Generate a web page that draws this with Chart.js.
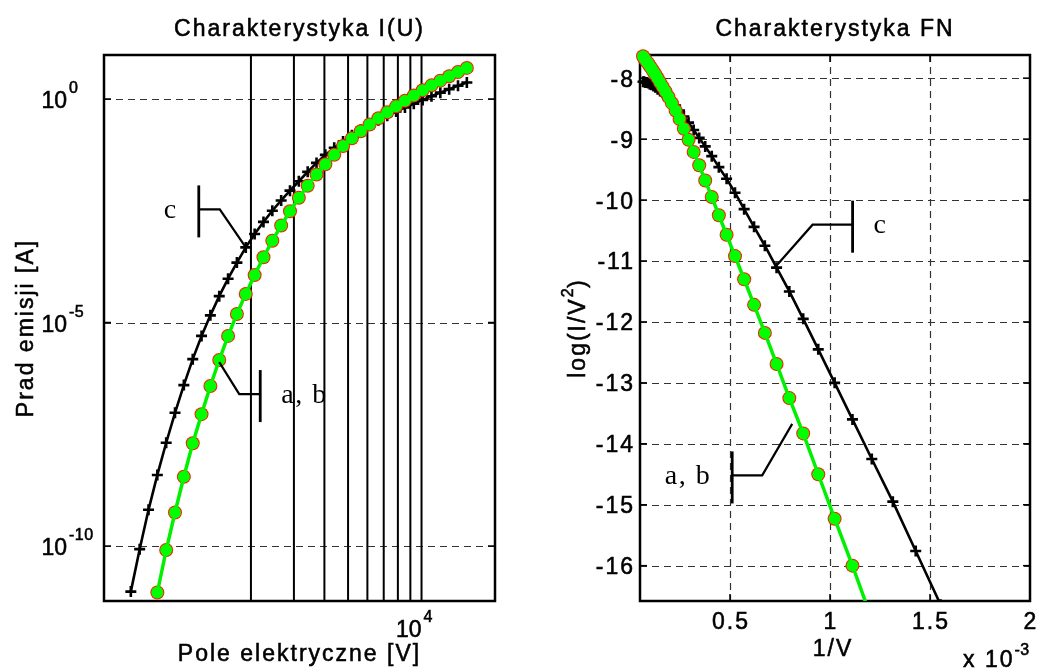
<!DOCTYPE html>
<html lang="pl">
<head>
<meta charset="utf-8">
<title>Charakterystyka I(U) i FN</title>
<script src="https://cdn.jsdelivr.net/npm/chart.js@4.4.1/dist/chart.umd.min.js"></script>
<style>
  html, body { margin: 0; padding: 0; background: #ffffff; }
  #figure { position: relative; width: 1039px; height: 671px; overflow: hidden; background: #ffffff; }
  #figure canvas { position: absolute; top: 0; }
  #iu { left: 0; }
  #fn { left: 520px; }
</style>
</head>
<body>
<div id="figure">
  <canvas id="iu" width="520" height="671"></canvas>
  <canvas id="fn" width="519" height="671"></canvas>
</div>
<script>
// ---- measured I(U) characteristic ----
// applied voltage steps [V]
const voltage = [644, 700, 761, 827, 899, 977, 1062, 1155, 1255, 1364, 1483, 1612, 1752, 1905, 2071, 2251,
  2447, 2660, 2891, 3143, 3416, 3713, 4036, 4388, 4769, 5184, 5635, 6126, 6659, 7238, 7868, 8552, 9296,
  10105, 10984, 11940, 12979, 14108, 15335];
// log10 of the emission current [A], curve c
const logCurrentC = [-11.02, -10.07, -9.19, -8.41, -7.69, -7.02, -6.40, -5.82, -5.30, -4.84, -4.41, -4.02,
  -3.66, -3.32, -3.02, -2.75, -2.50, -2.27, -2.05, -1.84, -1.63, -1.43, -1.25, -1.09, -0.95, -0.81, -0.69,
  -0.58, -0.475, -0.375, -0.28, -0.19, -0.105, -0.02, 0.062, 0.142, 0.22, 0.296, 0.37];
// log10 of the emission current [A], curves a and b (they coincide)
const logCurrentAB = [null, null, null, -11.04, -10.09, -9.25, -8.45, -7.70, -7.05, -6.42, -5.84, -5.30,
  -4.81, -4.36, -3.94, -3.54, -3.17, -2.83, -2.51, -2.21, -1.94, -1.69, -1.46, -1.25, -1.05, -0.88, -0.72,
  -0.57, -0.43, -0.295, -0.165, -0.04, 0.08, 0.195, 0.305, 0.41, 0.51, 0.605, 0.695];

// ---- Fowler-Nordheim coordinates ----
// 1/V in units of 1e-3 1/V
const inverseVoltage = [1.5528, 1.4286, 1.3142, 1.2090, 1.1123, 1.0232, 0.9413, 0.8660, 0.7967, 0.7329,
  0.6743, 0.6203, 0.5707, 0.5250, 0.4830, 0.4443, 0.4088, 0.3761, 0.3460, 0.3183, 0.2928, 0.2694, 0.2478,
  0.2280, 0.2097, 0.1929, 0.1775, 0.1633, 0.1502, 0.1382, 0.1271, 0.1170, 0.1076, 0.0990, 0.0911, 0.0838,
  0.0771, 0.0709, 0.0652];
// log(I/V^2), curve c
const fnC = [-16.64, -15.76, -14.95, -14.25, -13.60, -13.00, -12.45, -11.95, -11.50, -11.11, -10.75, -10.44,
  -10.15, -9.88, -9.65, -9.46, -9.28, -9.12, -8.98, -8.85, -8.73, -8.63, -8.53, -8.45, -8.39, -8.33, -8.28,
  -8.24, -8.21, -8.18, -8.15, -8.13, -8.11, -8.10, -8.08, -8.07, -8.07, -8.06, -8.06];
// log(I/V^2), curves a and b
const fnAB = [null, null, null, -16.88, -16.00, -15.23, -14.50, -13.83, -13.25, -12.69, -12.18, -11.72,
  -11.30, -10.92, -10.57, -10.25, -9.95, -9.68, -9.43, -9.21, -9.01, -8.83, -8.67, -8.53, -8.41, -8.31,
  -8.22, -8.14, -8.07, -8.00, -7.94, -7.89, -7.84, -7.80, -7.76, -7.73, -7.70, -7.67, -7.64];

// ---- axes ----
const currentTickExponents = [0, -5, -10];
const voltageTickExponents = [4];
const voltageGridLines = [2000, 3000, 4000, 5000, 6000, 7000, 8000, 9000, 10000];
const fnTicks = [-16, -15, -14, -13, -12, -11, -10, -9, -8];
const inverseTicks = [0.5, 1, 1.5, 2];
const inverseTickLabels = ['0.5', '1', '1.5', '2'];

const SANS = '"Liberation Sans", Arial, Helvetica, sans-serif';
const SERIF = '"Liberation Serif", "Times New Roman", Times, serif';
const BASE_SIZE = 23;
const BASE_SPACING = 2;
const SUP_SIZE = 16;

function setFont(ctx, size, family, spacing) {
  ctx.font = size + 'px ' + family;
  if ('letterSpacing' in ctx) ctx.letterSpacing = spacing + 'px';
}

// filled text with a hairline outline so the glyphs read a little heavier
function ink(ctx, text, x, y) {
  ctx.fillText(text, x, y);
  ctx.lineWidth = 0.55;
  ctx.strokeStyle = ctx.fillStyle;
  ctx.strokeText(text, x, y);
}

// text made of pieces; pieces flagged "sup" are drawn smaller and raised
function richText(ctx, pieces, x, y, align) {
  const styleOf = p => p.sup ? [SUP_SIZE, 0.5] : [BASE_SIZE, BASE_SPACING];
  const widths = pieces.map(p => {
    const [s, sp] = styleOf(p);
    setFont(ctx, s, SANS, sp);
    return ctx.measureText(p.t).width;
  });
  const total = widths.reduce((s, w) => s + w, 0);
  let cx = align === 'center' ? x - total / 2 : align === 'right' ? x - total : x;
  ctx.textAlign = 'left';
  ctx.textBaseline = 'alphabetic';
  pieces.forEach((p, i) => {
    const [s, sp] = styleOf(p);
    setFont(ctx, s, SANS, sp);
    ink(ctx, p.t, cx, y - (p.sup ? 12 : 0));
    cx += widths[i];
  });
}

function plainText(ctx, text, x, y, align) {
  setFont(ctx, BASE_SIZE, SANS, BASE_SPACING);
  ctx.textAlign = align;
  ctx.textBaseline = 'alphabetic';
  ink(ctx, text, x, y);
}

function segment(ctx, x1, y1, x2, y2) {
  ctx.beginPath();
  ctx.moveTo(x1, y1);
  ctx.lineTo(x2, y2);
  ctx.stroke();
}

function drawFrame(ctx, a) {
  ctx.save();
  ctx.setLineDash([]);
  ctx.strokeStyle = '#000';
  ctx.lineWidth = 2.5;
  ctx.strokeRect(a.left, a.top, a.right - a.left, a.bottom - a.top);
  ctx.restore();
}

// short tick marks pointing into the axes box on both sides
function inwardTicks(ctx, a, xPixels, yPixels) {
  ctx.save();
  ctx.setLineDash([]);
  ctx.strokeStyle = '#000';
  ctx.lineWidth = 1.5;
  const len = 7;
  yPixels.forEach(py => {
    segment(ctx, a.left, py, a.left + len, py);
    segment(ctx, a.right - len, py, a.right, py);
  });
  xPixels.forEach(px => {
    segment(ctx, px, a.bottom, px, a.bottom - len);
    segment(ctx, px, a.top, px, a.top + len);
  });
  ctx.restore();
}

// leader line from a curve to its letter
function callout(ctx, tip, c) {
  const ex = tip.x + c.elbow[0];
  const ey = tip.y + c.elbow[1];
  const bx = tip.x + c.bar;
  ctx.save();
  ctx.setLineDash([]);
  ctx.strokeStyle = '#000';
  ctx.lineWidth = 2.2;
  ctx.lineJoin = 'miter';
  ctx.beginPath();
  ctx.moveTo(tip.x, tip.y);
  ctx.lineTo(ex, ey);
  ctx.lineTo(bx, ey);
  ctx.stroke();
  ctx.lineWidth = 2.8;
  segment(ctx, bx, ey - 24, bx, ey + 28);
  setFont(ctx, 28, SERIF, 1.5);
  ctx.fillStyle = '#000';
  ctx.textBaseline = 'alphabetic';
  if (c.side === 'left') {
    ctx.textAlign = 'right';
    ctx.fillText(c.text, bx - 21, ey + 8.5);
  } else {
    ctx.textAlign = 'left';
    ctx.fillText(c.text, bx + 21, ey + 8.5);
  }
  ctx.restore();
}

const calloutsIU = [
  {series: 'c', index: 13, shift: [0, 0], elbow: [-26, -38], bar: -47, text: 'c', side: 'left'},
  {series: 'ab', index: 10, shift: [0, 2], elbow: [20, 32], bar: 41, text: 'a, b', side: 'right'}
];
const calloutsFN = [
  {series: 'c', index: 9, shift: [-2, 0], elbow: [38, -43], bar: 78, text: 'c', side: 'right'},
  {series: 'ab', index: 7, shift: [-11, -9.5], elbow: [-30, 51.5], bar: -60, text: 'a, b', side: 'left'}
];

const iuPointsC = voltage.map((v, i) => ({x: v, y: Math.pow(10, logCurrentC[i])}));
const iuPointsAB = voltage.map((v, i) => ({x: v, y: logCurrentAB[i] === null ? null : Math.pow(10, logCurrentAB[i])}));
const fnPointsC = inverseVoltage.map((v, i) => ({x: v, y: fnC[i]}));
const fnPointsAB = inverseVoltage.map((v, i) => ({x: v, y: fnAB[i]}));

const markerClip = {left: false, top: false, right: 0, bottom: 0};

function seriesSet(pointsAB, pointsC) {
  return [
    {label: 'b', data: pointsAB, order: 1, clip: markerClip,
      borderColor: '#00f000', borderWidth: 3.5, spanGaps: false,
      pointStyle: 'circle', pointRadius: 6, pointBackgroundColor: '#00ff00', pointBorderWidth: 0},
    {label: 'a', data: pointsAB, order: 2, clip: markerClip, showLine: false,
      pointStyle: 'circle', pointRadius: 7, pointBackgroundColor: '#ff1a00', pointBorderWidth: 0},
    {label: 'c', data: pointsC, order: 3, clip: markerClip,
      borderColor: '#000000', borderWidth: 2.6,
      pointStyle: 'cross', pointRadius: 5.5, pointBorderColor: '#000000', pointBorderWidth: 2.6}
  ];
}

function hiddenAxis(extra) {
  return Object.assign({
    bounds: 'data',
    grid: {display: false},
    border: {display: false},
    ticks: {display: false}
  }, extra);
}

const iuDecor = {
  id: 'iuDecor',
  beforeDatasetsDraw(chart) {
    const {ctx, chartArea: a} = chart;
    const xs = chart.scales.x, ys = chart.scales.y;
    ctx.save();
    ctx.strokeStyle = '#333';
    ctx.lineWidth = 1.2;
    ctx.setLineDash([7, 5]);
    ys.ticks.forEach(t => {
      const py = Math.round(ys.getPixelForValue(t.value)) + 0.5;
      segment(ctx, a.left, py, a.right, py);
    });
    ctx.setLineDash([]);
    ctx.strokeStyle = '#000';
    ctx.lineWidth = 2;
    voltageGridLines.forEach(v => {
      const px = xs.getPixelForValue(v);
      segment(ctx, px, a.top, px, a.bottom);
    });
    ctx.restore();
    inwardTicks(ctx, a, [], ys.ticks.map(t => ys.getPixelForValue(t.value)));
    drawFrame(ctx, a);
  },
  afterDraw(chart) {
    const {ctx, chartArea: a} = chart;
    const xs = chart.scales.x, ys = chart.scales.y;
    ctx.save();
    ctx.fillStyle = '#000';
    const cx = (a.left + a.right) / 2;
    plainText(ctx, 'Charakterystyka I(U)', cx, 36, 'center');
    plainText(ctx, 'Pole elektryczne [V]', cx, 661, 'center');
    // y tick labels: base "10" ending at a fixed column, exponent after it
    currentTickExponents.forEach(e => {
      const py = ys.getPixelForValue(Math.pow(10, e));
      setFont(ctx, BASE_SIZE, SANS, 0);
      ctx.textAlign = 'right';
      ctx.textBaseline = 'alphabetic';
      ink(ctx, '10', a.left - 37, py + 9);
      setFont(ctx, SUP_SIZE, SANS, 0.5);
      ctx.textAlign = 'left';
      ink(ctx, String(e), a.left - 35, py - 6);
    });
    voltageTickExponents.forEach(e => {
      const px = xs.getPixelForValue(Math.pow(10, e));
      setFont(ctx, BASE_SIZE, SANS, 0);
      ctx.textAlign = 'right';
      ctx.textBaseline = 'alphabetic';
      ink(ctx, '10', px, a.bottom + 36);
      setFont(ctx, SUP_SIZE, SANS, 0.5);
      ctx.textAlign = 'left';
      ink(ctx, String(e), px + 2, a.bottom + 21);
    });
    // rotated y axis title
    ctx.save();
    ctx.translate(a.left - 71, (a.top + a.bottom) / 2);
    ctx.rotate(-Math.PI / 2);
    plainText(ctx, 'Prad emisji [A]', 0, 0, 'center');
    ctx.restore();
    calloutsIU.forEach(c => {
      const logs = c.series === 'c' ? logCurrentC : logCurrentAB;
      const tip = {
        x: xs.getPixelForValue(voltage[c.index]) + c.shift[0],
        y: ys.getPixelForValue(Math.pow(10, logs[c.index])) + c.shift[1]
      };
      callout(ctx, tip, c);
    });
    ctx.restore();
  }
};

const fnDecor = {
  id: 'fnDecor',
  beforeDatasetsDraw(chart) {
    const {ctx, chartArea: a} = chart;
    const xs = chart.scales.x, ys = chart.scales.y;
    ctx.save();
    ctx.strokeStyle = '#333';
    ctx.lineWidth = 1.2;
    ctx.setLineDash([7, 5]);
    ys.ticks.forEach(t => {
      const py = Math.round(ys.getPixelForValue(t.value)) + 0.5;
      segment(ctx, a.left, py, a.right, py);
    });
    xs.ticks.forEach(t => {
      const px = Math.round(xs.getPixelForValue(t.value)) + 0.5;
      if (px < a.right - 2) segment(ctx, px, a.top, px, a.bottom);
    });
    ctx.restore();
    inwardTicks(ctx, a,
      xs.ticks.map(t => xs.getPixelForValue(t.value)).filter(px => px < a.right - 2),
      ys.ticks.map(t => ys.getPixelForValue(t.value)));
    drawFrame(ctx, a);
  },
  afterDraw(chart) {
    const {ctx, chartArea: a} = chart;
    const xs = chart.scales.x, ys = chart.scales.y;
    ctx.save();
    ctx.fillStyle = '#000';
    const cx = (a.left + a.right) / 2;
    plainText(ctx, 'Charakterystyka FN', cx, 36, 'center');
    fnTicks.forEach(v => {
      plainText(ctx, String(v), a.left - 5, ys.getPixelForValue(v) + 8.5, 'right');
    });
    inverseTicks.forEach((v, i) => {
      plainText(ctx, inverseTickLabels[i], xs.getPixelForValue(v) + 1, a.bottom + 28, 'center');
    });
    plainText(ctx, '1/V', cx - 2, a.bottom + 55, 'center');
    richText(ctx, [{t: 'x 10'}, {t: '-3', sup: true}], a.right - 67, a.bottom + 66, 'left');
    ctx.save();
    ctx.translate(a.left - 55, (a.top + a.bottom) / 2);
    ctx.rotate(-Math.PI / 2);
    richText(ctx, [{t: 'log(I/V'}, {t: '2', sup: true}, {t: ')'}], 0, 0, 'center');
    ctx.restore();
    calloutsFN.forEach(c => {
      const vals = c.series === 'c' ? fnC : fnAB;
      const tip = {
        x: xs.getPixelForValue(inverseVoltage[c.index]) + c.shift[0],
        y: ys.getPixelForValue(vals[c.index]) + c.shift[1]
      };
      callout(ctx, tip, c);
    });
    ctx.restore();
  }
};

const common = {
  responsive: false,
  animation: false,
  devicePixelRatio: 1,
  plugins: {legend: {display: false}, tooltip: {enabled: false}, title: {display: false}},
  elements: {line: {tension: 0}}
};

new Chart(document.getElementById('iu'), {
  type: 'line',
  data: {datasets: seriesSet(iuPointsAB, iuPointsC)},
  options: Object.assign({}, common, {
    layout: {padding: {left: 0, right: 25, top: 55, bottom: 0}},
    scales: {
      x: hiddenAxis({
        type: 'logarithmic', min: 500, max: 20000,
        afterBuildTicks: s => { s.ticks = voltageTickExponents.map(e => ({value: Math.pow(10, e)})); },
        afterFit: s => { s.height = 70; }
      }),
      y: hiddenAxis({
        type: 'logarithmic', min: 5.89e-12, max: 9.64,
        afterBuildTicks: s => { s.ticks = currentTickExponents.map(e => ({value: Math.pow(10, e)})); },
        afterFit: s => { s.width = 104; }
      })
    }
  }),
  plugins: [iuDecor]
});

new Chart(document.getElementById('fn'), {
  type: 'line',
  data: {datasets: seriesSet(fnPointsAB, fnPointsC)},
  options: Object.assign({}, common, {
    layout: {padding: {left: 0, right: 9, top: 55, bottom: 0}},
    scales: {
      x: hiddenAxis({
        type: 'linear', min: 0.05, max: 2,
        afterBuildTicks: s => { s.ticks = inverseTicks.map(v => ({value: v})); },
        afterFit: s => { s.height = 70; }
      }),
      y: hiddenAxis({
        type: 'linear', min: -16.58, max: -7.62,
        afterBuildTicks: s => { s.ticks = fnTicks.map(v => ({value: v})); },
        afterFit: s => { s.width = 120; }
      })
    }
  }),
  plugins: [fnDecor]
});
</script>
</body>
</html>
